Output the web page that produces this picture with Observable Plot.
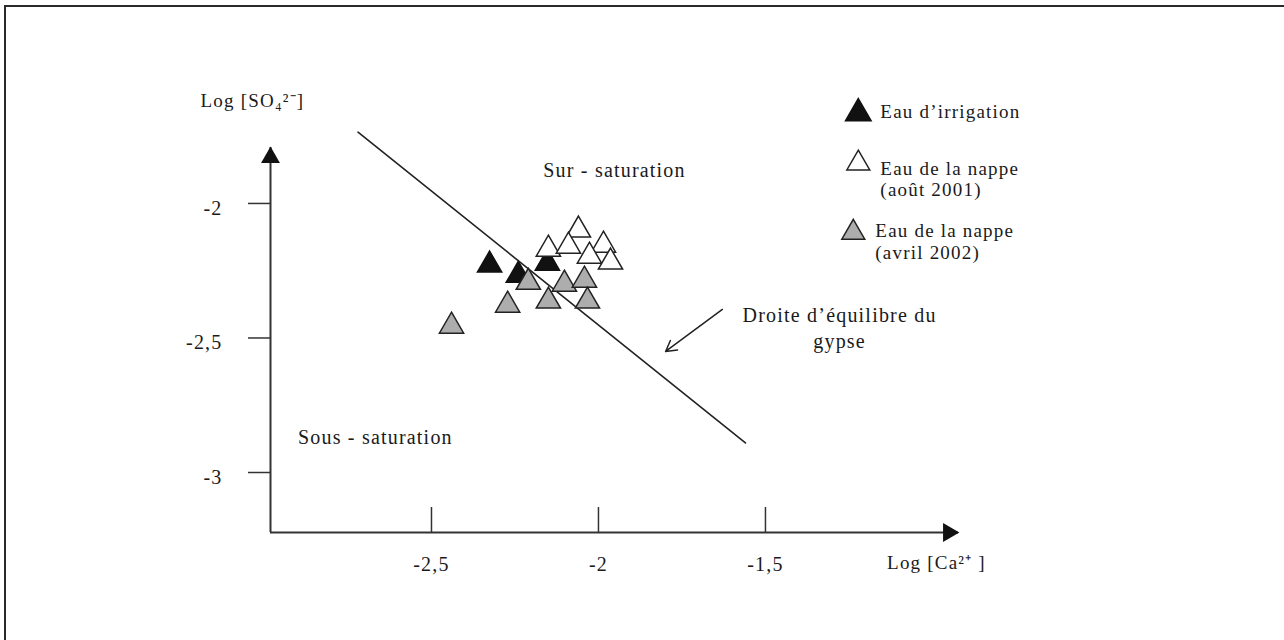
<!DOCTYPE html>
<html><head><meta charset="utf-8">
<script src="https://cdn.jsdelivr.net/npm/d3@7"></script>
<script src="https://cdn.jsdelivr.net/npm/@observablehq/plot@0.6"></script>
<style>
body{margin:0;background:#fff;}
#wrap{position:relative;width:1284px;height:640px;overflow:hidden;background:#fff;}
#wrap svg{position:absolute;left:0;top:0;}
#wrap svg text{letter-spacing:1.2px;}
#border{position:absolute;left:4px;top:5px;width:1400px;height:800px;border-left:2.5px solid #2a2a2a;border-top:2.5px solid #2a2a2a;pointer-events:none;z-index:2;}
</style></head><body><div id="wrap"></div>
<script>
// Eau d'irrigation
const irrigationX = [-2.326, -2.240, -2.153];
const irrigationY = [-2.229, -2.267, -2.222];
// Eau de la nappe (août 2001)
const aout2001X = [-2.060, -2.150, -2.090, -1.985, -2.027, -1.964];
const aout2001Y = [-2.099, -2.170, -2.159, -2.155, -2.196, -2.218];
// Eau de la nappe (avril 2002)
const avril2002X = [-2.440, -2.272, -2.210, -2.150, -2.102, -2.042, -2.033];
const avril2002Y = [-2.456, -2.378, -2.293, -2.363, -2.300, -2.285, -2.363];
// Droite d'équilibre du gypse
const gypseX = [-2.72, -1.56];
const gypseY = [-1.735, -2.89];
// ticks
const xTickValues = [-2.5, -2, -1.5];
const xTickLabels = ["-2,5", "-2", "-1,5"];
const yTickValues = [-2, -2.5, -3];
const yTickLabels = ["-2", "-2,5", "-3"];

const xDomain = [-2.982, -0.922];
const yDomain = [-3.223, -1.792];
const serif = '"Liberation Serif", "Times New Roman", serif';
const pts = (X, Y) => X.map((x, i) => ({x, y: Y[i]}));
const fmt = (vals, labs) => d => labs[vals.indexOf(d)];

const chart = Plot.plot({
  width: 1284, height: 640,
  marginLeft: 270, marginRight: 326, marginTop: 147, marginBottom: 108,
  x: {domain: xDomain}, y: {domain: yDomain},
  style: {fontFamily: serif, fontSize: "20px", color: "#1a1a1a", background: "#fff"},
  marks: [
    // axes lines
    Plot.ruleX([xDomain[0]], {stroke: "#333", strokeWidth: 2}),
    Plot.ruleY([yDomain[0]], {stroke: "#333", strokeWidth: 2}),
    Plot.dot([{x: xDomain[0], y: yDomain[1]}], {x: "x", y: "y", symbol: "triangle", r: 7, fill: "#111", stroke: "none", dy: 10}),
    Plot.dot([{x: xDomain[1], y: yDomain[0]}], {x: "x", y: "y", symbol: "triangle", r: 7, fill: "#111", stroke: "none", rotate: 90, dx: -10}),
    // ticks
    Plot.axisX({ticks: xTickValues, tickSize: -25, tickFormat: () => "", label: null, stroke: "#333", strokeWidth: 1.5}),
    Plot.axisX({ticks: xTickValues, tickSize: 0, tickPadding: 24, tickFormat: fmt(xTickValues, xTickLabels), label: null, fontSize: 20, fill: "#1a1a1a"}),
    Plot.axisY({ticks: yTickValues, tickSize: 22, tickFormat: () => "", label: null, stroke: "#333", strokeWidth: 1.5}),
    Plot.axisY({ticks: yTickValues, tickSize: 0, tickPadding: 48, dy: 5, tickFormat: fmt(yTickValues, yTickLabels), label: null, fontSize: 20, fill: "#1a1a1a"}),
    // gypsum equilibrium line
    Plot.line(pts(gypseX, gypseY), {x: "x", y: "y", stroke: "#222", strokeWidth: 1.6}),
    // data
    Plot.dot(pts(irrigationX, irrigationY), {x: "x", y: "y", symbol: "triangle", r: 9, fill: "#111", stroke: "#111", strokeWidth: 1.5}),
    Plot.dot(pts(aout2001X, aout2001Y), {x: "x", y: "y", symbol: "triangle", r: 9, fill: "#fff", stroke: "#222", strokeWidth: 1.5}),
    Plot.dot(pts(avril2002X, avril2002Y), {x: "x", y: "y", symbol: "triangle", r: 9, fill: "#adadad", stroke: "#222", strokeWidth: 1.5}),
    // axis titles
    Plot.text(["Log [SO₄²⁻]"], {x: -3.036, y: -1.617, text: d => d, fontSize: 19, fill: "#1a1a1a"}),
    Plot.text(["Log [Ca²⁺ ]"], {x: -0.988, y: -3.335, text: d => d, fontSize: 19, fill: "#1a1a1a"}),
    // region labels
    Plot.text(["Sur - saturation"], {x: -1.952, y: -1.877, text: d => d, fontSize: 20, fill: "#1a1a1a"}),
    Plot.text(["Sous - saturation"], {x: -2.668, y: -2.870, text: d => d, fontSize: 20, fill: "#1a1a1a"}),
    Plot.text(["Droite d’équilibre du\ngypse"], {x: -1.278, y: -2.457, text: d => d, fontSize: 20, lineHeight: 1.3, fill: "#1a1a1a"}),
    Plot.arrow([0], {x1: -1.629, y1: -2.394, x2: -1.799, y2: -2.550, stroke: "#222", strokeWidth: 1.5, headLength: 12}),
    // legend
    Plot.dot([0], {x: -1.222, y: -1.665, symbol: "triangle", r: 9.5, fill: "#111", stroke: "#111"}),
    Plot.text(["Eau d’irrigation"], {x: -1.156, y: -1.658, text: d => d, textAnchor: "start", fontSize: 19, fill: "#1a1a1a"}),
    Plot.dot([0], {x: -1.222, y: -1.851, symbol: "triangle", r: 8.5, fill: "#fff", stroke: "#222", strokeWidth: 1.5}),
    Plot.text(["Eau de la nappe\n(août 2001)"], {x: -1.156, y: -1.907, text: d => d, textAnchor: "start", fontSize: 19, lineHeight: 1.15, fill: "#1a1a1a"}),
    Plot.dot([0], {x: -1.237, y: -2.108, symbol: "triangle", r: 8.5, fill: "#adadad", stroke: "#222", strokeWidth: 1.5}),
    Plot.text(["Eau de la nappe\n(avril 2002)"], {x: -1.171, y: -2.141, text: d => d, textAnchor: "start", fontSize: 19, lineHeight: 1.15, fill: "#1a1a1a"})
  ]
});
const wrap = document.getElementById("wrap");
wrap.appendChild(chart);
const b = document.createElement("div");
b.id = "border";
wrap.appendChild(b);
</script>
</body></html>
